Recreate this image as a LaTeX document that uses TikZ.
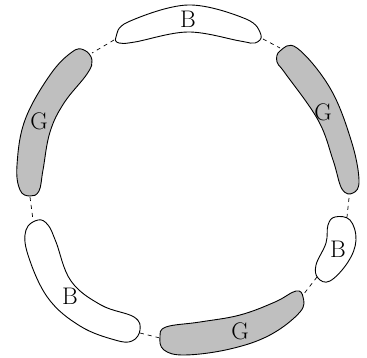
\documentclass[tikz,border=0pt]{standalone}
\begin{document}
\begin{tikzpicture}[x=1pt,y=-1pt,
  blob/.style={draw=black,line width=0.9pt},
  gblob/.style={blob,fill=black!25},
  wblob/.style={blob,fill=white},
  lbl/.style={font=\fontsize{24}{28}\selectfont,inner sep=0pt},
  link/.style={draw=black,line width=0.7pt,dash pattern=on 4pt off 4pt}]
\useasboundingbox (0,0) rectangle (367,358);
% top B
\draw[wblob] plot[smooth cycle,tension=0.6] coordinates {(116,37) (128,22) (188,5) (246,19) (261,35) (255,43) (240,41) (188,32) (135,42) (119,43)};
\node[lbl] (b1) at (188,19) {B};
% right G
\draw[gblob] plot[smooth cycle,tension=0.65] coordinates {(280,51) (297,48) (330,88) (351,140) (359,180) (353,193) (342,189) (333,160) (318,120) (285,73) (277,62)};
\node[lbl] (g1) at (323,112) {G};
% left G
\draw[gblob] plot[smooth cycle,tension=0.65] coordinates {(84,50) (92,60) (87,74) (64,103) (50,132) (43,170) (39,191) (30,196) (20,190) (17,165) (25,120) (50,75) (72,52)};
\node[lbl] (g2) at (39,121) {G};
% bottom-left B
\draw[wblob] plot[smooth cycle,tension=0.65] coordinates {(38,220) (48,225) (56,242) (71,281) (101,305) (134,317) (140,330) (132,341) (115,340) (80,326) (48,298) (28,255) (26,230)};
\node[lbl] (b2) at (70,296) {B};
% bottom G
\draw[gblob] plot[smooth cycle,tension=0.65] coordinates {(166,327) (200,322) (240,315) (275,302) (296,291) (303,297) (300,312) (270,335) (230,349) (185,355) (164,350) (160,337)};
\node[lbl] (g3) at (240,331) {G};
% bottom-right B
\draw[wblob] plot[smooth cycle,tension=0.65] coordinates {(335,217) (350,220) (356,240) (348,262) (330,281) (318,278) (316,265) (326,243) (328,225)};
\node[lbl] (b3) at (338,249) {B};
% dashed links
\coordinate (a1) at (114,40); \coordinate (a2) at (92,53);
\coordinate (c1) at (263,39); \coordinate (c2) at (280,48);
\coordinate (d1) at (30,197); \coordinate (d2) at (33,220);
\coordinate (e1) at (349,198); \coordinate (e2) at (347,217);
\coordinate (f1) at (317,277); \coordinate (f2) at (303,295);
\coordinate (h1) at (140,333); \coordinate (h2) at (160,338);
\draw[link] (a1) -- (a2);
\draw[link] (c1) -- (c2);
\draw[link] (d1) -- (d2);
\draw[link] (e1) -- (e2);
\draw[link] (f1) -- (f2);
\draw[link] (h1) -- (h2);
\end{tikzpicture}
\end{document}
